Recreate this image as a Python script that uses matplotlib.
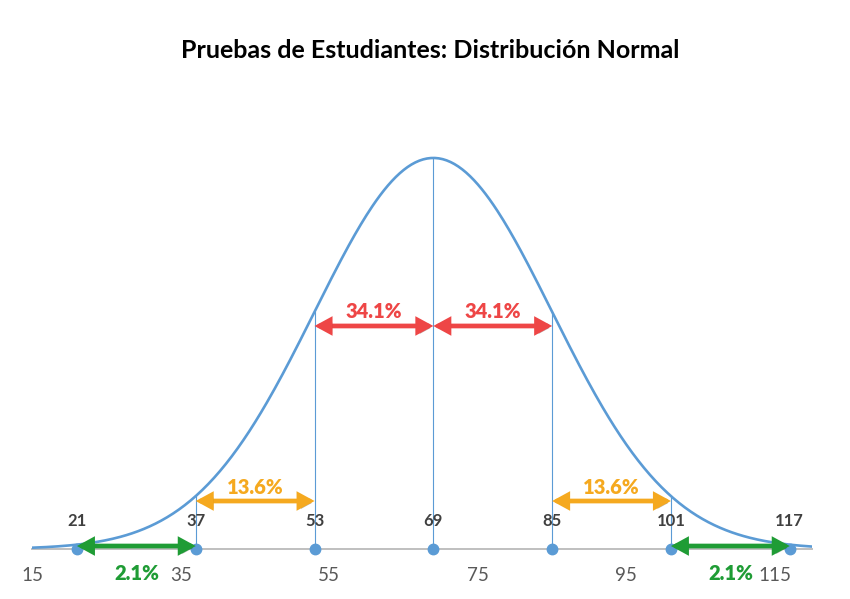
import numpy as np
import matplotlib.pyplot as plt
from matplotlib.patches import FancyArrowPatch
import matplotlib.patheffects as pe

# chart values
media = 69
desv = 16
puntos = [21, 37, 53, 69, 85, 101, 117]
ticks = [15, 35, 55, 75, 95, 115]
x_rango = [15, 120]

# arrows: (from, to, height, label, label height, colour)
flechas_desde = [53, 69, 37, 85, 21, 101]
flechas_hasta = [69, 85, 53, 101, 37, 117]
flechas_y = [0.01422, 0.01422, 0.00306, 0.00306, 0.00019, 0.00019]
etiquetas = ['34.1%', '34.1%', '13.6%', '13.6%', '2.1%', '2.1%']
etiquetas_y = [0.01515, 0.01515, 0.00395, 0.00395, -0.00155, -0.00155]
colores = ['#EE4646', '#EE4646', '#F5A91F', '#F5A91F', '#1F9C35', '#1F9C35']

azul = '#5B9BD5'
plt.rcParams['font.family'] = ['Lato', 'DejaVu Sans']


def normal(x):
    return np.exp(-0.5 * ((x - media) / desv) ** 2) / (desv * np.sqrt(2 * np.pi))


fig = plt.figure(figsize=(8.5, 5.99), dpi=100)
ax = fig.add_axes([32.4 / 850, 50 / 599, (812 - 32.4) / 850, 470.5 / 599])

# curve
xs = np.linspace(x_rango[0], x_rango[1], 400)
ax.plot(xs, normal(xs), color=azul, lw=1.9, zorder=3)

# vertical lines and points
for p in puntos:
    ax.plot([p, p], [0, normal(p)], color=azul, lw=0.8, zorder=2)
    ax.text(p, 0.00178, str(p), ha='center', va='center', fontsize=12,
            fontweight='bold', color='#404040')
ax.plot(puntos, [0] * len(puntos), 'o', color=azul, ms=7.5, zorder=5, clip_on=False)

# arrows
sombra = [pe.SimplePatchShadow(offset=(1.5, -1.5), alpha=0.35), pe.Normal()]
for a, b, y, t, ty, c in zip(flechas_desde, flechas_hasta, flechas_y,
                             etiquetas, etiquetas_y, colores):
    fl = FancyArrowPatch((a, y), (b, y), arrowstyle='<|-|>,head_length=0.55,head_width=0.3',
                         mutation_scale=14, color=c, lw=3.4, shrinkA=0, shrinkB=0,
                         joinstyle='miter', zorder=6, clip_on=False)
    fl.set_path_effects(sombra)
    ax.add_patch(fl)
    ax.text((a + b) / 2, ty, t, ha='center', va='center', fontsize=14.5,
            fontweight='heavy', color=c, zorder=7)

ax.set_xlim(x_rango)
ax.set_ylim(0, 0.03)
ax.set_xticks(ticks)
ax.set_yticks([])
ax.tick_params(axis='x', length=0, pad=13, labelsize=13.5, labelcolor='#595959')
for s in ['top', 'left', 'right']:
    ax.spines[s].set_visible(False)
ax.spines['bottom'].set_color('#BFBFBF')
ax.spines['bottom'].set_linewidth(1.4)
ax.spines['bottom'].set_zorder(1)

fig.text(430 / 850, 1 - 50 / 599, 'Pruebas de Estudiantes: Distribución Normal',
         ha='center', va='center', fontsize=18, fontweight='bold', color='black')

fig.savefig('out.png', dpi=100)
